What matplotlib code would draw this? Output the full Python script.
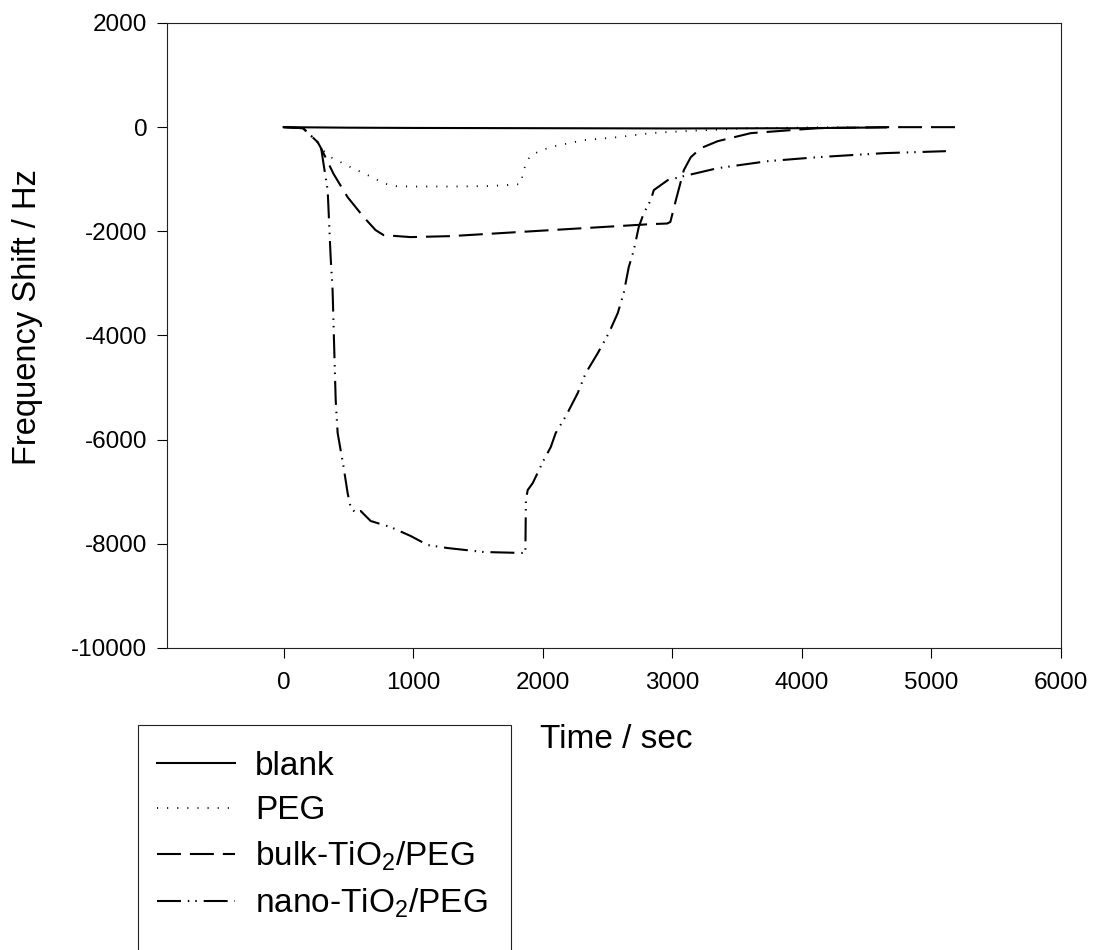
"""Frequency shift vs. time for blank, PEG and TiO2/PEG films."""
import matplotlib
matplotlib.use("Agg")
import matplotlib.pyplot as plt
from matplotlib.patches import Rectangle

plt.rcParams["font.family"] = ["Liberation Sans", "DejaVu Sans"]
plt.rcParams["axes.unicode_minus"] = False

# ---------------------------------------------------------------------
# Data (time in s, frequency shift in Hz)
# ---------------------------------------------------------------------
blank_t = [0, 500, 1000, 2000, 3000, 4000, 4650]
blank_f = [0, -10, -15, -20, -25, -20, -5]

peg_t = [0, 150, 263, 290, 363, 517, 649, 772, 849, 1000, 1300, 1600, 1830,
         1853, 1880, 1907, 2000, 2062, 2317, 2579, 2834, 3089, 3606, 4124, 4600]
peg_f = [0, -20, -288, -410, -576, -768, -921, -1075, -1132, -1140, -1140, -1130, -1094,
         -825, -650, -537, -440, -380, -250, -192, -115, -77, -19, -5, 0]

bulk_t = [0, 150, 263, 290, 386, 494, 618, 710, 772, 981, 1290, 1807, 2317, 2834,
          2960, 2985, 3030, 3089, 3143, 3220, 3351, 3606, 4124, 4640, 5205]
bulk_f = [0, -20, -288, -410, -900, -1344, -1727, -1977, -2073, -2111, -2092, -2015, -1939, -1862,
          -1850, -1820, -1380, -825, -576, -403, -269, -115, -19, 0, 0]

nano_t = [0, 150, 263, 290, 324, 340, 363, 378, 390, 402, 417, 463, 494, 517, 556, 595,
          672, 826, 981, 1112, 1266, 1544, 1866, 1870, 1884, 1923, 2008, 2062, 2100, 2178,
          2270, 2332, 2425, 2510, 2579, 2625, 2664, 2703, 2741, 2780, 2834, 2857, 2965,
          3089, 3351, 3737, 4124, 4633, 5112]
nano_f = [0, -20, -288, -410, -960, -1209, -2495, -3129, -4200, -5240, -5873, -6526, -7025, -7294, -7409, -7370,
          -7562, -7678, -7850, -8023, -8081, -8157, -8177, -7159, -6967, -6833, -6392, -6142, -5873, -5550,
          -5106, -4722, -4338, -3954, -3570, -3186, -2687, -2361, -1919, -1651, -1401, -1209, -1017,
          -940, -787, -653, -576, -499, -461]

labels = ["blank", "PEG", r"bulk-TiO$_\mathregular{2}$/PEG", r"nano-TiO$_\mathregular{2}$/PEG"]

x_ticks = [0, 1000, 2000, 3000, 4000, 5000, 6000]
y_ticks = [-10000, -8000, -6000, -4000, -2000, 0, 2000]

# ---------------------------------------------------------------------
# Figure
# ---------------------------------------------------------------------
fig = plt.figure(figsize=(10.93, 9.5), dpi=100)
ax = fig.add_axes([0.1528, 0.3179, 0.8179, 0.6579])

lw = 1.5
h_blank, = ax.plot(blank_t, blank_f, color="black", lw=lw, label=labels[0])
h_peg, = ax.plot(peg_t, peg_f, color="black", lw=1.3, dashes=(0.6, 5.0), label=labels[1])
h_bulk, = ax.plot(bulk_t, bulk_f, color="black", lw=lw, dashes=(11.5, 4.3), label=labels[2])
h_nano, = ax.plot(nano_t, nano_f, color="black", lw=lw,
                  dashes=(11.5, 3.3, 0.7, 2.9, 0.7, 3.3), label=labels[3])

ax.set_xlim(-900, 6000)
ax.set_ylim(-10000, 2000)
ax.set_xticks(x_ticks)
ax.set_yticks(y_ticks)
ax.tick_params(axis="both", direction="out", length=7.2, width=0.8, labelsize=17.5, colors="black")
ax.tick_params(axis="x", pad=10)
ax.tick_params(axis="y", pad=7)
for sp in ax.spines.values():
    sp.set_linewidth(0.8)
    sp.set_color("#222222")

ax.set_xlabel("Time / sec", fontsize=24)
ax.set_ylabel("Frequency Shift / Hz", fontsize=23.5)
ax.xaxis.set_label_coords(0.503, -0.147)
ax.xaxis.label.set_verticalalignment("center")
ax.yaxis.set_label_coords(-0.1566, 0.5296)
ax.yaxis.label.set_verticalalignment("center")

# legend box runs off the bottom edge of the figure
fig.patches.append(Rectangle((138 / 1093, -0.05), 373 / 1093, 0.2368 + 0.05,
                             transform=fig.transFigure, fill=False,
                             edgecolor="#222222", linewidth=0.8))
fig.legend(handles=[h_blank, h_peg, h_bulk, h_nano], loc="upper left",
           bbox_to_anchor=(157 / 1093, (950 - 751) / 950), frameon=False,
           fontsize=24, handlelength=2.34, handletextpad=0.6, labelspacing=0.4,
           borderpad=0, borderaxespad=0)

fig.savefig("out.png", dpi=100)
plt.close(fig)
